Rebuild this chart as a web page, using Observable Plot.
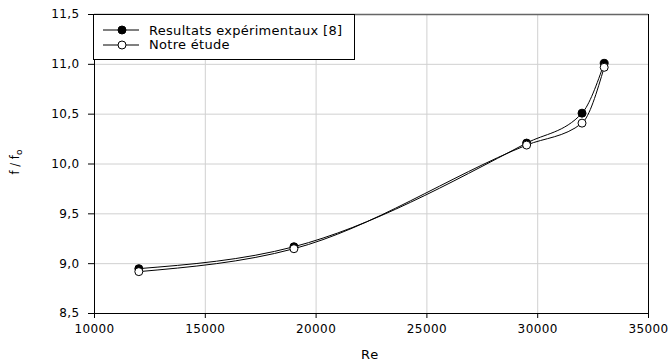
<!DOCTYPE html>
<html>
<head>
<meta charset="utf-8">
<script src="https://cdn.jsdelivr.net/npm/d3@7"></script>
<script src="https://cdn.jsdelivr.net/npm/@observablehq/plot@0.6"></script>
<style>
  body { margin: 0; background: #fff; }
  #chart { position: relative; width: 672px; height: 362px; font-family: "DejaVu Sans", sans-serif; }
  .legend { position: absolute; left: 93px; top: 14px; width: 262px; height: 46px; border: 1px solid #000;
            background: #fff; box-sizing: border-box; font-size: 13px; letter-spacing: 0.3px; color: #000; }
  .legend .row { position: absolute; left: 9px; height: 14px; display: flex; align-items: center; white-space: nowrap; }
  .legend svg { display: block; margin-right: 9px; }
</style>
</head>
<body>
<div id="chart"></div>
<script>
// Friction factor ratio f/f0 versus Reynolds number
const reynolds = [12000, 19000, 29500, 32000, 33000];
const experimental = [8.95, 9.17, 10.21, 10.51, 11.01];
const present = [8.92, 9.15, 10.19, 10.41, 10.97];
const seriesNames = ["Resultats expérimentaux [8]", "Notre étude"];
const xTicks = [10000, 15000, 20000, 25000, 30000, 35000];
const yTicks = [8.5, 9, 9.5, 10, 10.5, 11, 11.5];

const expData = reynolds.map((re, i) => ({re, f: experimental[i]}));
const ourData = reynolds.map((re, i) => ({re, f: present[i]}));

const fmtComma = d => d.toFixed(1).replace(".", ",");

const chart = Plot.plot({
  width: 672,
  height: 362,
  marginLeft: 94,
  marginRight: 24,
  marginTop: 14,
  marginBottom: 49,
  style: {fontFamily: "DejaVu Sans, sans-serif", fontSize: "12px", letterSpacing: "0.4px", color: "#000", background: "#fff"},
  x: {domain: [10000, 35000], label: null},
  y: {domain: [8.5, 11.5], label: null},
  marks: [
    Plot.gridX(xTicks, {stroke: "#d0d0d0", strokeOpacity: 1}),
    Plot.gridY(yTicks, {stroke: "#d0d0d0", strokeOpacity: 1}),
    Plot.ruleY([11.5], {stroke: "#666", strokeWidth: 1.5}),
    Plot.ruleX([35000], {stroke: "#000"}),
    Plot.ruleX([10000], {stroke: "#000"}),
    Plot.ruleY([8.5], {stroke: "#000"}),
    Plot.line(expData, {x: "re", y: "f", curve: "monotone-x", stroke: "#000", strokeWidth: 1}),
    Plot.line(ourData, {x: "re", y: "f", curve: "monotone-x", stroke: "#000", strokeWidth: 1}),
    Plot.dot(expData, {x: "re", y: "f", r: 4, fill: "#000", stroke: "#000", strokeWidth: 1}),
    Plot.dot(ourData, {x: "re", y: "f", r: 4, fill: "#fff", stroke: "#000", strokeWidth: 1}),
    Plot.axisX({ticks: xTicks, tickFormat: d3.format("d"), tickSize: 5, tickPadding: 6, label: null}),
    Plot.axisY({ticks: yTicks, tickFormat: fmtComma, tickSize: 6, tickPadding: 9, label: null})
  ]
});

const host = document.getElementById("chart");
host.appendChild(chart);

const svg = d3.select(chart);
// Axis titles
svg.append("text")
  .attr("x", 370).attr("y", 359)
  .attr("text-anchor", "middle")
  .attr("font-size", 13)
  .attr("letter-spacing", "0.8px")
  .attr("fill", "#000")
  .text("Re");
const yl = svg.append("text")
  .attr("transform", "translate(19,162) rotate(-90)")
  .attr("text-anchor", "middle")
  .attr("font-size", 11.5)
  .attr("letter-spacing", "0px")
  .attr("fill", "#000");
yl.append("tspan").text("f / f");
yl.append("tspan").attr("font-size", 9).attr("dy", 3).text("o");

// Legend box
const legend = document.createElement("div");
legend.className = "legend";
const fills = ["#000", "#fff"];
seriesNames.forEach((name, i) => {
  const row = document.createElement("div");
  row.className = "row";
  row.style.top = (8 + i * 14.5) + "px";
  row.innerHTML =
    `<svg width="37" height="12"><line x1="0" x2="36" y1="6" y2="6" stroke="#000" stroke-width="1"/>` +
    `<circle cx="19" cy="6" r="4" fill="${fills[i]}" stroke="#000"/></svg><span>${name}</span>`;
  legend.appendChild(row);
});
host.appendChild(legend);
</script>
</body>
</html>
